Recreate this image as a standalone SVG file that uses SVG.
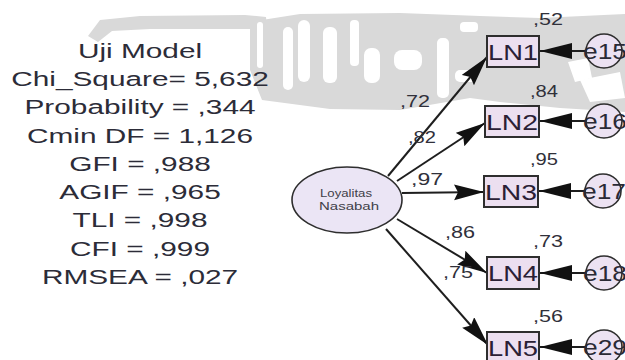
<svg xmlns="http://www.w3.org/2000/svg" width="625" height="360" viewBox="0 0 625 360">
<style>
.fit{font-family:"Liberation Sans",Arial,sans-serif;font-size:21px;fill:#2c2c38;text-anchor:middle}
.num{font-family:"Liberation Sans",Arial,sans-serif;font-size:16px;fill:#30303a}
.box{fill:#ecdff0;stroke:#2e2e2e;stroke-width:2}
.boxt{font-family:"Liberation Sans",Arial,sans-serif;font-size:22px;fill:#2a2035}
.err{fill:#ece2f2;stroke:#2e2e2e;stroke-width:1.6}
.errt{font-family:"Liberation Sans",Arial,sans-serif;font-size:22px;fill:#2a2a35}
.con{stroke:#1e1e1e;stroke-width:2;fill:none}
.wm{fill:#d9d9d9}
.gap{fill:#ffffff}
</style>
<defs>
<marker id="ah" markerUnits="userSpaceOnUse" markerWidth="32" markerHeight="18" refX="30" refY="8" orient="auto">
<path d="M0,0 L30,8 L0,16 L4,8 z" fill="#111"/>
</marker>
<marker id="eh" markerUnits="userSpaceOnUse" markerWidth="34" markerHeight="18" refX="32" refY="8" orient="auto">
<path d="M0,0 L32,8 L0,16 z" fill="#111"/>
</marker>
</defs>
<rect width="625" height="360" fill="#ffffff"/>
<g id="watermark">
<path class="wm" d="M88,36 L100,20 L140,16 L245,15 L266,17 L268,40 L258,44 L252,29 L150,29 L112,31 L98,42 z"/>
<path class="wm" d="M250,22 L300,14 L400,13 L480,16 L540,18 L625,14 L625,112 L560,108 L500,102 L470,98 L400,110 L330,109 L262,100 L250,70 z"/>
<rect class="gap" x="257" y="22" width="6" height="46" rx="3"/>
<rect class="gap" x="283" y="27" width="10" height="63" rx="5"/>
<rect class="gap" x="298" y="20" width="12" height="62" rx="6"/>
<rect class="gap" x="323" y="27" width="14" height="56" rx="6"/>
<rect class="gap" x="350" y="20" width="9" height="46" rx="4"/>
<rect class="gap" x="364" y="48" width="16" height="35" rx="7"/>
<rect class="gap" x="394" y="50" width="28" height="20" rx="8"/>
<rect class="gap" x="437" y="38" width="12" height="60" rx="5"/>
<rect class="gap" x="455" y="70" width="22" height="12" rx="5"/>
<path class="gap" d="M568,62 L588,58 L592,78 L575,82 z"/>
<path class="gap" d="M580,80 L620,72 L625,98 L590,102 z"/>
<rect class="gap" x="460" y="22" width="18" height="10" rx="4"/>
</g>
<g id="fit-indices">
<g transform="translate(140,0) scale(1.42,1)">
<text class="fit" x="0" y="58">Uji Model</text>
<text class="fit" x="0" y="86.3">Chi_Square= 5,632</text>
<text class="fit" x="0" y="114.5">Probability = ,344</text>
<text class="fit" x="0" y="142.8">Cmin DF = 1,126</text>
<text class="fit" x="0" y="171">GFI = ,988</text>
<text class="fit" x="0" y="199.3">AGIF = ,965</text>
<text class="fit" x="0" y="227.5">TLI = ,998</text>
<text class="fit" x="0" y="255.8">CFI = ,999</text>
<text class="fit" x="0" y="284">RMSEA = ,027</text>
</g>
</g>
<g id="connectors">
<line class="con" x1="388" y1="176" x2="487" y2="57" marker-end="url(#ah)"/>
<line class="con" x1="397" y1="181" x2="485" y2="123" marker-end="url(#ah)"/>
<line class="con" x1="402" y1="193" x2="484" y2="192" marker-end="url(#ah)"/>
<line class="con" x1="397" y1="219" x2="487" y2="273" marker-end="url(#ah)"/>
<line class="con" x1="386" y1="229" x2="488" y2="345" marker-end="url(#ah)"/>
<line class="con" x1="586" y1="51" x2="540" y2="51" marker-end="url(#eh)"/>
<line class="con" x1="586" y1="121" x2="540" y2="121" marker-end="url(#eh)"/>
<line class="con" x1="585" y1="191" x2="539" y2="191" marker-end="url(#eh)"/>
<line class="con" x1="586" y1="273" x2="540" y2="273" marker-end="url(#eh)"/>
<line class="con" x1="586" y1="347" x2="540" y2="347" marker-end="url(#eh)"/>
<text class="num" x="400" y="107" textLength="30" lengthAdjust="spacingAndGlyphs">,72</text>
<text class="num" x="408" y="143" textLength="28" lengthAdjust="spacingAndGlyphs">,82</text>
<text class="num" x="411" y="185" textLength="32" lengthAdjust="spacingAndGlyphs">,97</text>
<text class="num" x="445" y="238" textLength="30" lengthAdjust="spacingAndGlyphs">,86</text>
<text class="num" x="443" y="278" textLength="30" lengthAdjust="spacingAndGlyphs">,75</text>
</g>
<g id="loyalitas">
<ellipse cx="347" cy="200" rx="55" ry="33" fill="#ebe5f5" stroke="#2e2e2e" stroke-width="1.6"/>
<text x="320" y="197" font-family="Liberation Sans, Arial, sans-serif" font-size="10" fill="#404048" textLength="52" lengthAdjust="spacingAndGlyphs">Loyalitas</text>
<text x="319" y="210" font-family="Liberation Sans, Arial, sans-serif" font-size="10" fill="#404048" textLength="60" lengthAdjust="spacingAndGlyphs">Nasabah</text>
</g>
<g id="LN1">
<rect class="box" x="487" y="36" width="52" height="31"/>
<text class="boxt" x="488" y="60" textLength="50" lengthAdjust="spacingAndGlyphs">LN1</text>
<text class="num" x="533" y="25" textLength="30" lengthAdjust="spacingAndGlyphs">,52</text>
</g>
<g id="LN2">
<rect class="box" x="485" y="106" width="54" height="31"/>
<text class="boxt" x="486" y="130" textLength="52" lengthAdjust="spacingAndGlyphs">LN2</text>
<text class="num" x="530" y="97" textLength="28" lengthAdjust="spacingAndGlyphs">,84</text>
</g>
<g id="LN3">
<rect class="box" x="484" y="176" width="54" height="31"/>
<text class="boxt" x="485" y="200" textLength="52" lengthAdjust="spacingAndGlyphs">LN3</text>
<text class="num" x="530" y="165" textLength="28" lengthAdjust="spacingAndGlyphs">,95</text>
</g>
<g id="LN4">
<rect class="box" x="487" y="257" width="52" height="32"/>
<text class="boxt" x="488" y="281" textLength="50" lengthAdjust="spacingAndGlyphs">LN4</text>
<text class="num" x="533" y="247" textLength="30" lengthAdjust="spacingAndGlyphs">,73</text>
</g>
<g id="LN5">
<rect class="box" x="487" y="332" width="52" height="32"/>
<text class="boxt" x="488" y="356" textLength="50" lengthAdjust="spacingAndGlyphs">LN5</text>
<text class="num" x="533" y="322" textLength="30" lengthAdjust="spacingAndGlyphs">,56</text>
</g>
<g id="e15">
<ellipse class="err" cx="604" cy="51" rx="18" ry="17"/>
<text class="errt" x="583" y="59" textLength="44" lengthAdjust="spacingAndGlyphs">e15</text>
</g>
<g id="e16">
<ellipse class="err" cx="604" cy="121" rx="18" ry="17"/>
<text class="errt" x="583" y="129" textLength="44" lengthAdjust="spacingAndGlyphs">e16</text>
</g>
<g id="e17">
<ellipse class="err" cx="603" cy="191" rx="18" ry="17"/>
<text class="errt" x="582" y="199" textLength="44" lengthAdjust="spacingAndGlyphs">e17</text>
</g>
<g id="e18">
<ellipse class="err" cx="604" cy="273" rx="18" ry="17"/>
<text class="errt" x="583" y="281" textLength="44" lengthAdjust="spacingAndGlyphs">e18</text>
</g>
<g id="e29">
<ellipse class="err" cx="604" cy="347" rx="18" ry="17"/>
<text class="errt" x="583" y="355" textLength="44" lengthAdjust="spacingAndGlyphs">e29</text>
</g>
</svg>
